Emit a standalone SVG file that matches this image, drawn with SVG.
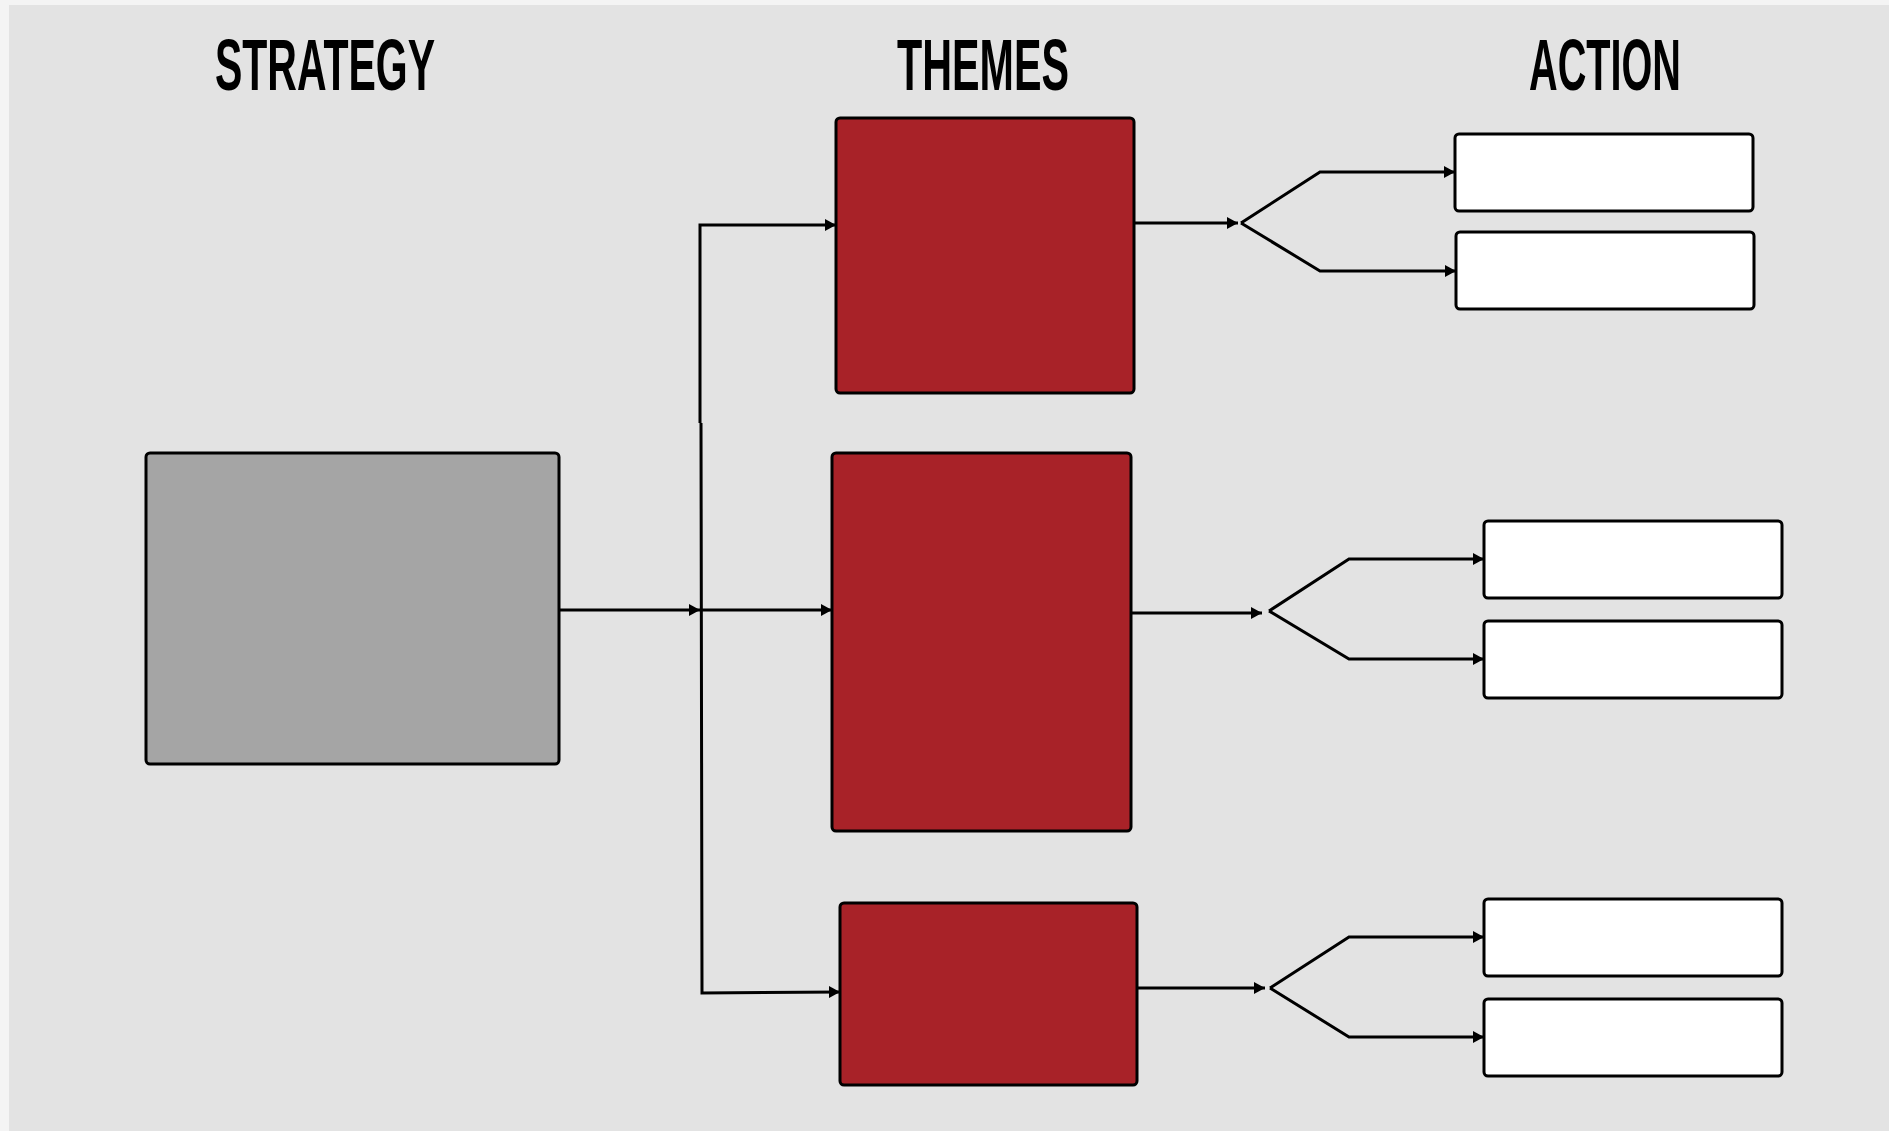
<svg xmlns="http://www.w3.org/2000/svg" width="1889" height="1131" viewBox="0 0 1889 1131">
  <style>
    .hdr { font-family: "Liberation Sans", Arial, sans-serif; font-weight: bold; font-size: 73px; fill: #000; text-anchor: middle; }
    .box { stroke: #000; stroke-width: 3; }
    .strategy { fill: #a5a5a5; }
    .theme { fill: #a82228; }
    .action { fill: #ffffff; }
    .wire { fill: none; stroke: #000; stroke-width: 3; stroke-linejoin: miter; }
    .arr { marker-end: url(#head); }
  </style>
  <defs>
    <marker id="head" markerUnits="userSpaceOnUse" markerWidth="12" markerHeight="14" refX="11" refY="7" orient="auto">
      <path d="M0,1 L11,7 L0,13 Z" fill="#000"/>
    </marker>
  </defs>

  <!-- page -->
  <rect x="0" y="0" width="1889" height="1131" fill="#f4f4f4"/>
  <rect x="9" y="5" width="1880" height="1126" fill="#e3e3e3"/>

  <!-- column headings -->
  <g id="headings">
    <text class="hdr" x="325" y="90" textLength="220" lengthAdjust="spacingAndGlyphs">STRATEGY</text>
    <text class="hdr" x="983" y="90" textLength="172" lengthAdjust="spacingAndGlyphs">THEMES</text>
    <text class="hdr" x="1605" y="90" textLength="152" lengthAdjust="spacingAndGlyphs">ACTION</text>
  </g>

  <!-- connectors -->
  <g id="connectors">
    <!-- strategy to trunk, trunk to themes -->
    <path class="wire arr" d="M560 610 H700"/>
    <path class="wire arr" d="M701 610 H832"/>
    <path class="wire arr" d="M700 423 V225 H836"/>
    <path class="wire arr" d="M701 423 L702 993 L840 992"/>

    <!-- theme 1 to actions -->
    <path class="wire arr" d="M1134 223 H1238"/>
    <path class="wire arr" d="M1241 223 L1320 172 H1455"/>
    <path class="wire arr" d="M1241 223 L1320 271 H1456"/>

    <!-- theme 2 to actions -->
    <path class="wire arr" d="M1131 613 H1262"/>
    <path class="wire arr" d="M1269 611 L1349 559 H1484"/>
    <path class="wire arr" d="M1269 611 L1349 659 H1484"/>

    <!-- theme 3 to actions -->
    <path class="wire arr" d="M1137 988 H1265"/>
    <path class="wire arr" d="M1270 988 L1349 937 H1484"/>
    <path class="wire arr" d="M1270 988 L1349 1037 H1484"/>
  </g>

  <!-- strategy -->
  <g id="strategy">
    <rect class="box strategy" x="146" y="453" width="413" height="311" rx="4"/>
  </g>

  <!-- themes -->
  <g id="theme-1">
    <rect class="box theme" x="836" y="118" width="298" height="275" rx="4"/>
  </g>
  <g id="theme-2">
    <rect class="box theme" x="832" y="453" width="299" height="378" rx="4"/>
  </g>
  <g id="theme-3">
    <rect class="box theme" x="840" y="903" width="297" height="182" rx="4"/>
  </g>

  <!-- actions -->
  <g id="action-1a">
    <rect class="box action" x="1455" y="134" width="298" height="77" rx="4"/>
  </g>
  <g id="action-1b">
    <rect class="box action" x="1456" y="232" width="298" height="77" rx="4"/>
  </g>
  <g id="action-2a">
    <rect class="box action" x="1484" y="521" width="298" height="77" rx="4"/>
  </g>
  <g id="action-2b">
    <rect class="box action" x="1484" y="621" width="298" height="77" rx="4"/>
  </g>
  <g id="action-3a">
    <rect class="box action" x="1484" y="899" width="298" height="77" rx="4"/>
  </g>
  <g id="action-3b">
    <rect class="box action" x="1484" y="999" width="298" height="77" rx="4"/>
  </g>
</svg>
